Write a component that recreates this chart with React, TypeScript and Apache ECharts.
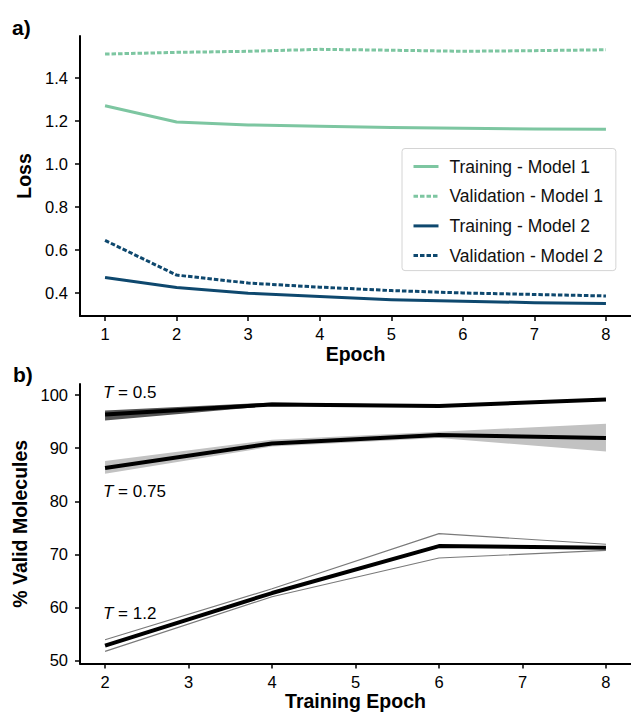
import React, { useEffect, useRef } from "react";
import * as echarts from "echarts";

const FONT = "'Liberation Sans', Arial, Helvetica, sans-serif";

// Panel a) — loss curves
const epochsA = [1, 2, 3, 4, 5, 6, 7, 8];
const trainM1 = [1.27, 1.195, 1.181, 1.175, 1.169, 1.166, 1.162, 1.161];
const valM1 = [1.51, 1.518, 1.523, 1.532, 1.528, 1.523, 1.526, 1.53];
const trainM2 = [0.473, 0.426, 0.4, 0.384, 0.37, 0.363, 0.356, 0.352];
const valM2 = [0.645, 0.484, 0.447, 0.428, 0.412, 0.401, 0.394, 0.387];
const lossTicks = [0.4, 0.6, 0.8, 1.0, 1.2, 1.4];
const legendNames = [
  "Training - Model 1",
  "Validation - Model 1",
  "Training - Model 2",
  "Validation - Model 2",
];

// Panel b) — % valid molecules
const epochsB = [2, 4, 6, 8];
const epochTicksB = [2, 3, 4, 5, 6, 7, 8];
const t05 = [96.35, 98.25, 97.95, 99.2];
const t05Low = [95.2, 98.0, 97.7, 99.05];
const t05High = [97.1, 98.6, 98.15, 99.4];
const t075 = [86.25, 90.9, 92.5, 91.9];
const t075Low = [85.2, 90.3, 91.9, 89.4];
const t075High = [87.6, 91.6, 93.1, 94.6];
const t12 = [52.8, 62.7, 71.55, 71.25];
const t12Low = [51.7, 62.0, 69.3, 70.75];
const t12High = [53.9, 63.5, 73.9, 71.9];
const validTicks = [50, 60, 70, 80, 90, 100];
const tempLabels = ["0.5", "0.75", "1.2"];

const GREEN = "#7dc6a1";
const BLUE = "#0e486e";

const pts = (xs: number[], ys: number[]) => xs.map((x, i) => [x, ys[i]]);

function lineSeries(name: string, xi: number, xs: number[], ys: number[], color: string, width: number, dashed: boolean, z = 3) {
  return {
    name,
    type: "line",
    xAxisIndex: xi,
    yAxisIndex: xi,
    data: pts(xs, ys),
    symbol: "none",
    showSymbol: false,
    z,
    lineStyle: { color, width, type: dashed ? [4.5, 2] : "solid", cap: "butt", join: "round" },
    itemStyle: { color },
    emphasis: { disabled: true },
  };
}

function bandSeries(xi: number, xs: number[], lo: number[], hi: number[], color: string) {
  return {
    type: "custom",
    xAxisIndex: xi,
    yAxisIndex: xi,
    silent: true,
    z: 1,
    data: xs.map((x, i) => [x, lo[i], hi[i]]),
    encode: { x: 0, y: [1, 2] },
    renderItem: (params: any, api: any) => {
      if (params.dataIndex !== 0) return null;
      const top = xs.map((x, i) => api.coord([x, hi[i]]));
      const bot = xs.map((x, i) => api.coord([x, lo[i]])).reverse();
      return {
        type: "polygon",
        shape: { points: [...top, ...bot] },
        style: { fill: color, stroke: null },
      };
    },
  };
}

const axisLineStyle = { show: true, onZero: false, lineStyle: { color: "#000", width: 2 } };
const tickStyle = { color: "#000", width: 1.5 };
const labelStyle = { color: "#000", fontSize: 16.5, fontFamily: FONT };
const nameStyle = { color: "#000", fontSize: 19.5, fontWeight: "bold", fontFamily: FONT };

export default function App() {
  const ref = useRef<HTMLDivElement>(null);
  useEffect(() => {
    if (!ref.current) return;
    const chart = echarts.init(ref.current, undefined, { renderer: "svg" });
    const annY = [392, 491.5, 613];
    const option: any = {
      animation: false,
      backgroundColor: "#fff",
      grid: [
        { left: 80, top: 36, right: -11, height: 280 },
        { left: 80, top: 384, right: -11, height: 281 },
      ],
      xAxis: [
        {
          type: "value",
          gridIndex: 0,
          min: 0.65,
          max: 8.35,
          axisLine: axisLineStyle,
          axisTick: { show: true, length: 5, lineStyle: tickStyle, customValues: epochsA },
          axisLabel: { ...labelStyle, margin: 9, customValues: epochsA },
          splitLine: { show: false },
          name: "Epoch",
          nameLocation: "middle",
          nameGap: 28,
          nameTextStyle: nameStyle,
        },
        {
          type: "value",
          gridIndex: 1,
          min: 1.7,
          max: 8.3,
          axisLine: axisLineStyle,
          axisTick: { show: true, length: 5, lineStyle: tickStyle, customValues: epochTicksB },
          axisLabel: { ...labelStyle, margin: 9.5, customValues: epochTicksB },
          splitLine: { show: false },
          name: "Training Epoch",
          nameLocation: "middle",
          nameGap: 26,
          nameTextStyle: nameStyle,
        },
      ],
      yAxis: [
        {
          type: "value",
          gridIndex: 0,
          min: 0.294,
          max: 1.594,
          axisLine: axisLineStyle,
          axisTick: { show: true, length: 5, lineStyle: tickStyle, customValues: lossTicks },
          axisLabel: {
            ...labelStyle,
            margin: 12,
            customValues: lossTicks,
            formatter: (v: number) => v.toFixed(1),
          },
          splitLine: { show: false },
          name: "Loss",
          nameLocation: "middle",
          nameRotate: 90,
          nameGap: 43,
          nameTextStyle: nameStyle,
        },
        {
          type: "value",
          gridIndex: 1,
          min: 49.4,
          max: 102.1,
          axisLine: axisLineStyle,
          axisTick: { show: true, length: 5, lineStyle: tickStyle, customValues: validTicks },
          axisLabel: { ...labelStyle, margin: 12, customValues: validTicks },
          splitLine: { show: false },
          name: "% Valid Molecules",
          nameLocation: "middle",
          nameRotate: 90,
          nameGap: 46,
          nameTextStyle: nameStyle,
        },
      ],
      legend: {
        data: legendNames,
        orient: "vertical",
        left: 402,
        top: 148.5,
        itemWidth: 25,
        itemHeight: 18,
        itemGap: 11.7,
        padding: [9, 13, 6, 10],
        backgroundColor: "rgba(255,255,255,0.85)",
        borderColor: "#d4d4d4",
        borderWidth: 1,
        borderRadius: 3,
        selectedMode: false,
        itemStyle: { opacity: 0, borderWidth: 0 },
        lineStyle: { width: 3 },
        textStyle: { fontSize: 17.5, color: "#111", fontFamily: FONT, lineHeight: 18, padding: [0, 0, 0, 6] },
      },
      series: [
        lineSeries(legendNames[0], 0, epochsA, trainM1, GREEN, 3, false),
        lineSeries(legendNames[1], 0, epochsA, valM1, GREEN, 3, true),
        lineSeries(legendNames[2], 0, epochsA, trainM2, BLUE, 3, false),
        lineSeries(legendNames[3], 0, epochsA, valM2, BLUE, 3, true),
        bandSeries(1, epochsB, t05Low, t05High, "#555555"),
        bandSeries(1, epochsB, t075Low, t075High, "#c2c2c2"),
        lineSeries("T12 low", 1, epochsB, t12Low, "#7a7a7a", 1.2, false, 2),
        lineSeries("T12 high", 1, epochsB, t12High, "#7a7a7a", 1.2, false, 2),
        lineSeries("T = 0.5", 1, epochsB, t05, "#000", 4, false),
        lineSeries("T = 0.75", 1, epochsB, t075, "#000", 4, false),
        lineSeries("T = 1.2", 1, epochsB, t12, "#000", 4, false),
      ],
      graphic: [
        {
          type: "text",
          x: 12,
          y: 27,
          style: { text: "a)", fontSize: 21, fontWeight: "bold", fontFamily: FONT, fill: "#000", verticalAlign: "middle" },
        },
        {
          type: "text",
          x: 13,
          y: 374,
          style: { text: "b)", fontSize: 21, fontWeight: "bold", fontFamily: FONT, fill: "#000", verticalAlign: "middle" },
        },
        ...tempLabels.map((t, i) => ({
          type: "text",
          x: 103,
          y: annY[i],
          style: {
            text: "{i|T} = " + t,
            fontSize: 17,
            fontFamily: FONT,
            fill: "#000",
            verticalAlign: "middle",
            rich: { i: { fontStyle: "italic", fontSize: 17, fontFamily: FONT, fill: "#000" } },
          },
        })),
      ],
    };
    chart.setOption(option);
    return () => chart.dispose();
  }, []);
  return (
    <div
      ref={ref}
      style={{ position: "absolute", left: 0, top: 0, width: 631, height: 712, background: "#fff" }}
    />
  );
}
